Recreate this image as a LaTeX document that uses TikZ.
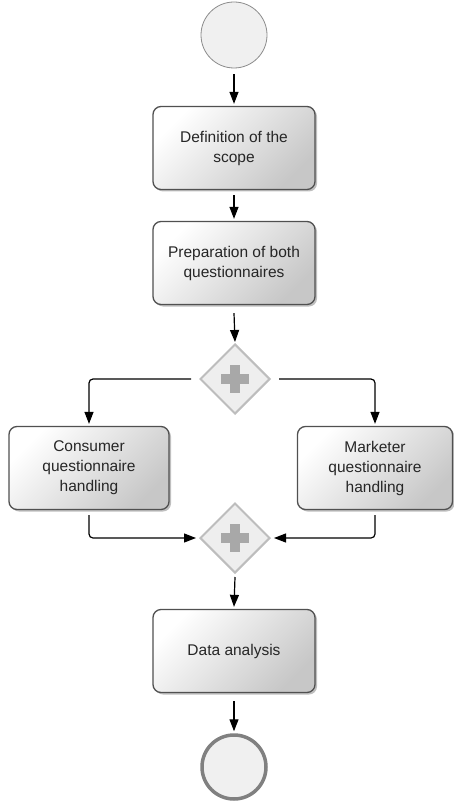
\documentclass[tikz,border=0pt]{standalone}
\usepackage{fontspec}
\setmainfont{Liberation Sans}
\usetikzlibrary{shapes.geometric,arrows.meta,shadows}
\definecolor{boxline}{HTML}{505050}
\definecolor{gwline}{HTML}{BDBDBD}
\definecolor{gwfill}{HTML}{EEEEEE}
\definecolor{plusc}{HTML}{A8A8A8}
\definecolor{evfill}{HTML}{F0F0F0}
\tikzset{
  taskbox/.style={rectangle, rounded corners=8pt, draw=boxline, line width=1.3pt,
    top color=white, bottom color=black!22, shading angle=45,
    minimum width=162pt, minimum height=83pt, align=center,
    font=\fontsize{15.5}{20}\selectfont, text=black!85,
    drop shadow={shadow xshift=2pt, shadow yshift=-2pt, opacity=0.25, fill=black}},
  gateway/.style={diamond, aspect=1, draw=gwline, line width=2pt, fill=gwfill,
    minimum width=70pt, minimum height=70pt, inner sep=0pt},
  startev/.style={circle, draw=black!45, line width=0.8pt, fill=evfill, minimum size=66pt, inner sep=0pt},
  endev/.style={circle, draw=black!50, line width=3.5pt, fill=evfill, minimum size=64pt, inner sep=0pt},
  flow/.style={draw=black, line width=1.2pt, -{Triangle[length=12pt,width=9pt]}},
  plusbar/.style={fill=plusc, draw=none}
}
\begin{document}
\begin{tikzpicture}[x=1pt,y=-1pt]
\useasboundingbox (0,0) rectangle (454,802);
\node[startev] (start) at (234,35) {};
\node[taskbox] (scope) at (234,148) {Definition of the\\scope};
\node[taskbox] (prep) at (234,263) {Preparation of both\\questionnaires};
\node[gateway] (g1) at (235,379) {};
\node[taskbox, minimum width=160pt] (cons) at (89,468) {Consumer\\questionnaire\\handling};
\node[taskbox, minimum width=155pt] (mark) at (375,468) {Marketer\\questionnaire\\handling};
\node[gateway] (g2) at (235,538) {};
\node[taskbox] (data) at (234,651) {Data analysis};
\node[endev] (endn) at (234,767) {};
% plus signs
\fill[plusbar] ([shift={(-14,-5)}]g1.center) rectangle ([shift={(14,5)}]g1.center);
\fill[plusbar] ([shift={(-5,-14)}]g1.center) rectangle ([shift={(5,14)}]g1.center);
\fill[plusbar] ([shift={(-14,-5)}]g2.center) rectangle ([shift={(14,5)}]g2.center);
\fill[plusbar] ([shift={(-5,-14)}]g2.center) rectangle ([shift={(5,14)}]g2.center);
% flows
\draw[flow] ([yshift=-6pt]start.south) -- ([yshift=2pt]scope.north);
\draw[flow] ([yshift=-5pt]scope.south) -- ([yshift=2pt]prep.north);
\draw[flow] ([yshift=-8pt]prep.south) -- ([yshift=1pt]g1.north);
\draw[flow, rounded corners=4pt] ([xshift=-8pt]g1.west) -| ([yshift=2pt]cons.north);
\draw[flow, rounded corners=4pt] ([xshift=8pt]g1.east) -| ([yshift=2pt]mark.north);
\draw[flow, rounded corners=4pt] ([yshift=-5pt]cons.south) |- ([xshift=-3pt]g2.west);
\draw[flow, rounded corners=4pt] ([yshift=-5pt]mark.south) |- ([xshift=3pt]g2.east);
\draw[flow] ([yshift=-3pt]g2.south) -- ([yshift=2pt]data.north);
\draw[flow] ([yshift=-8pt]data.south) -- ([yshift=2pt]endn.north);
\end{tikzpicture}
\end{document}
